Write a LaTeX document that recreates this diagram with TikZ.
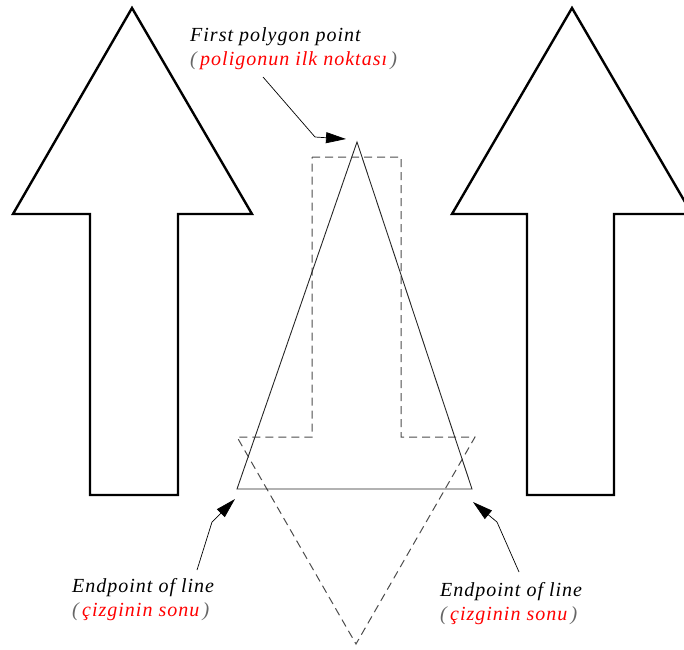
\documentclass[tikz,border=0pt]{standalone}
\usepackage{fontspec}
\setmainfont{Liberation Serif}[LetterSpace=5]
\usetikzlibrary{arrows.meta}
\begin{document}
\begin{tikzpicture}[x=1pt,y=-1pt,
  bigarrow/.style={line width=2.4pt, line join=miter, black},
  thinline/.style={line width=0.9pt, black!85},
  dashline/.style={line width=1pt, black!70, dash pattern=on 8pt off 5pt},
  lbl/.style={font=\fontsize{20}{24}\selectfont\itshape, align=left, inner sep=0pt, anchor=north west},
  pointer/.style={line width=0.7pt, -{Triangle[length=20pt,width=11pt]}}
]
\useasboundingbox (0,0) rectangle (684,649);
\clip (0,0) rectangle (684,649);
% big outline arrows
\draw[bigarrow] (132,8) -- (252,214) -- (178,214) -- (178,495) -- (90,495) -- (90,214) -- (13,214) -- cycle;
\draw[bigarrow] (572,8) -- (692,214) -- (614,214) -- (614,495) -- (527,495) -- (527,214) -- (452,214) -- cycle;
% dashed upside-down arrow
\draw[dashline] (312,157) -- (401,157) -- (401,437) -- (475,437) -- (356,644) -- (237,437) -- (312,437) -- cycle;
% solid triangle
\draw[thinline] (357,142) -- (472,489) -- (237,489) -- cycle;
% labels
\node[lbl] (toplbl) at (190,27) {First polygon point\\{\color{black!60}(}\,\textcolor{red}{poligonun ilk noktası}\,{\color{black!60})}};
\node[lbl] (leftlbl) at (72,578) {Endpoint of line\\{\color{black!60}(}\,\textcolor{red}{çizginin sonu}\,{\color{black!60})}};
\node[lbl] (rightlbl) at (440,582) {Endpoint of line\\{\color{black!60}(}\,\textcolor{red}{çizginin sonu}\,{\color{black!60})}};
% pointer coordinates
\coordinate (ts) at (263,77);
\coordinate (tb) at (315,137);
\coordinate (tt) at (346,139);
\coordinate (ls) at (197,570);
\coordinate (lb) at (212,522);
\coordinate (lt) at (235,499);
\coordinate (rs) at (519,572);
\coordinate (rb) at (497,522);
\coordinate (rt) at (473,502);
\draw[pointer] (ts) -- (tb) -- (tt);
\draw[pointer] (ls) -- (lb) -- (lt);
\draw[pointer] (rs) -- (rb) -- (rt);
\end{tikzpicture}
\end{document}
